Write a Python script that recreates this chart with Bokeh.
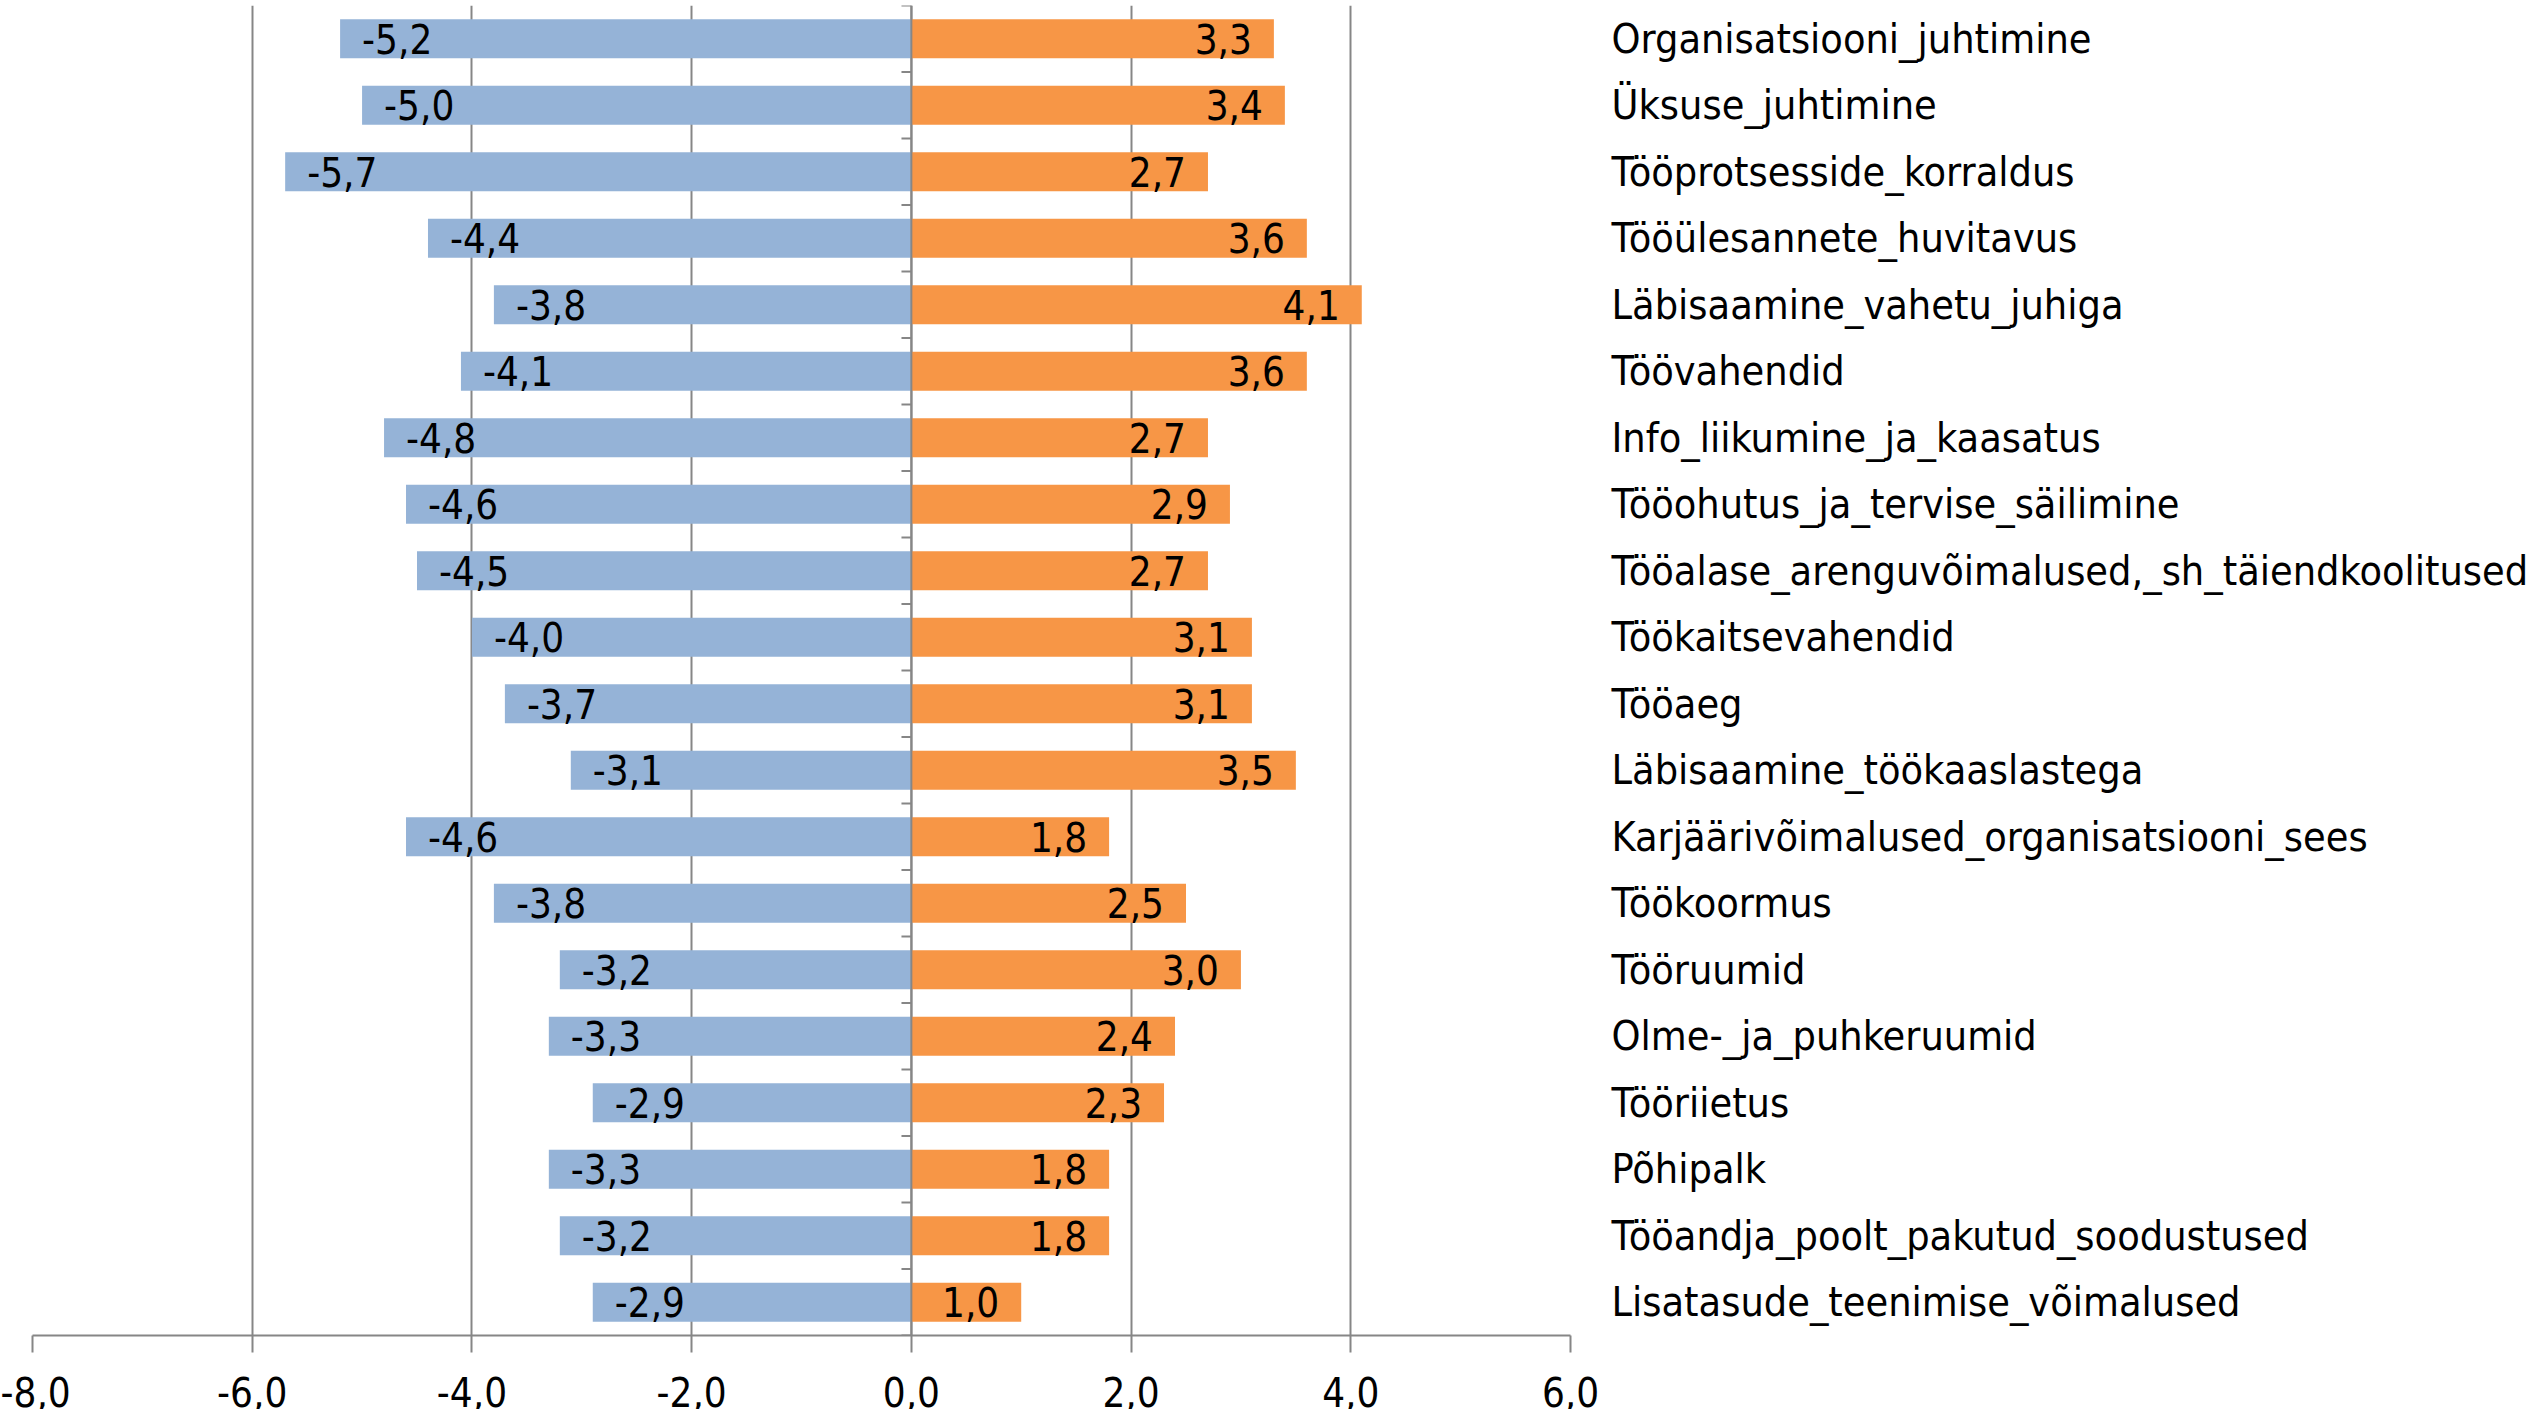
from bokeh.plotting import figure
from bokeh.models import Range1d, FixedTicker, Span, ColumnDataSource
from bokeh.core.properties import value
from bokeh.embed import file_html
from bokeh.resources import INLINE

categories = [
    "Organisatsiooni_juhtimine",
    "Üksuse_juhtimine",
    "Tööprotsesside_korraldus",
    "Tööülesannete_huvitavus",
    "Läbisaamine_vahetu_juhiga",
    "Töövahendid",
    "Info_liikumine_ja_kaasatus",
    "Tööohutus_ja_tervise_säilimine",
    "Tööalase_arenguvõimalused,_sh_täiendkoolitused",
    "Töökaitsevahendid",
    "Tööaeg",
    "Läbisaamine_töökaaslastega",
    "Karjäärivõimalused_organisatsiooni_sees",
    "Töökoormus",
    "Tööruumid",
    "Olme-_ja_puhkeruumid",
    "Tööriietus",
    "Põhipalk",
    "Tööandja_poolt_pakutud_soodustused",
    "Lisatasude_teenimise_võimalused",
]
negative = [-5.2, -5.0, -5.7, -4.4, -3.8, -4.1, -4.8, -4.6, -4.5, -4.0,
            -3.7, -3.1, -4.6, -3.8, -3.2, -3.3, -2.9, -3.3, -3.2, -2.9]
positive = [3.3, 3.4, 2.7, 3.6, 4.1, 3.6, 2.7, 2.9, 2.7, 3.1,
            3.1, 3.5, 1.8, 2.5, 3.0, 2.4, 2.3, 1.8, 1.8, 1.0]
x_ticks = [-8, -6, -4, -2, 0, 2, 4, 6]

FONT = "'Liberation Sans Narrow', 'DejaVu Sans Condensed', sans-serif"
GRAY = "#868686"
BLUE = "#95B3D7"
ORANGE = "#F79646"

n = len(categories)
idx = list(range(n))

def fmt(v):
    return f"{v:.1f}".replace(".", ",")

src = ColumnDataSource(dict(
    y=idx,
    neg=negative,
    pos=positive,
    zero=[0] * n,
    neg_lbl=[fmt(v) for v in negative],
    pos_lbl=[fmt(v) for v in positive],
))

p = figure(
    frame_width=1538, frame_height=1330,
    x_range=Range1d(x_ticks[0], x_ticks[-1]),
    y_range=Range1d(n - 0.5, -0.5),
    y_axis_location="right",
    output_backend="svg", toolbar_location=None,
    min_border_left=32, min_border_top=5, min_border_right=0, min_border_bottom=0,
)
p.outline_line_color = None
p.background_fill_color = "white"

# grid
p.ygrid.visible = False
p.xgrid.ticker = FixedTicker(ticks=x_ticks)
p.xgrid.grid_line_color = GRAY
p.xgrid.grid_line_width = 2

# bars
p.hbar(y="y", left="neg", right="zero", height=0.59, source=src,
       fill_color=BLUE, line_color=None)
p.hbar(y="y", left="zero", right="pos", height=0.59, source=src,
       fill_color=ORANGE, line_color=None)

# zero axis with ticks at category boundaries
p.add_layout(Span(location=0, dimension="height", line_color=GRAY, line_width=2))
bounds = [i - 0.5 for i in range(n + 1)]
p.segment(x0=[-0.09] * len(bounds), x1=[0] * len(bounds), y0=bounds, y1=bounds,
          line_color=GRAY, line_width=2)

# value labels
p.text(x="neg", y="y", text="neg_lbl", source=src, x_offset=22,
       text_align="left", text_baseline="middle",
       text_font=value(FONT), text_font_size="40px", text_color="black")
p.text(x="pos", y="y", text="pos_lbl", source=src, x_offset=-22,
       text_align="right", text_baseline="middle",
       text_font=value(FONT), text_font_size="40px", text_color="black")

# bottom axis
xa = p.xaxis[0]
xa.ticker = FixedTicker(ticks=x_ticks)
xa.major_label_overrides = {t: fmt(t) for t in x_ticks}
xa.axis_line_color = GRAY
xa.axis_line_width = 2
xa.major_tick_line_color = GRAY
xa.major_tick_line_width = 2
xa.major_tick_in = 0
xa.major_tick_out = 17
xa.minor_tick_line_color = None
xa.major_label_text_font = FONT
xa.major_label_text_font_size = "40px"
xa.major_label_text_color = "black"
xa.major_label_standoff = 24

# right category axis
ya = p.yaxis[0]
ya.ticker = FixedTicker(ticks=idx)
ya.major_label_overrides = {i: c for i, c in zip(idx, categories)}
ya.axis_line_color = None
ya.major_tick_line_color = None
ya.major_tick_in = 0
ya.major_tick_out = 0
ya.minor_tick_line_color = None
ya.major_label_text_font = FONT
ya.major_label_text_font_size = "41px"
ya.major_label_text_color = "black"
ya.major_label_standoff = 41

open("out.html", "w").write(file_html(p, INLINE))
